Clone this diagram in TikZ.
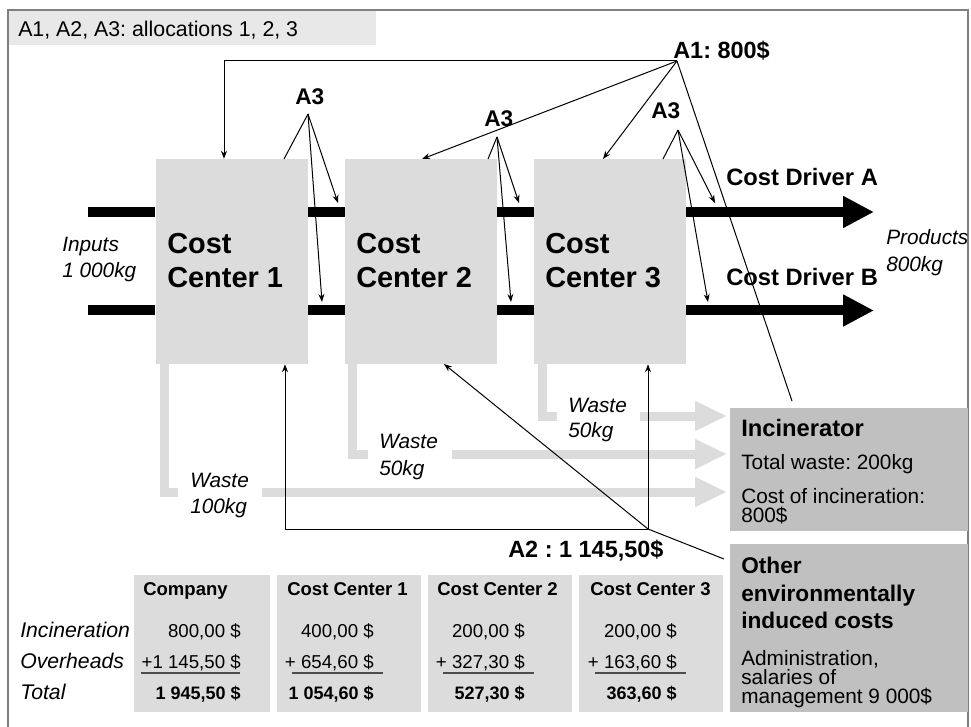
\documentclass[tikz,border=0pt]{standalone}
\usepackage{fontspec}
\setmainfont{Liberation Sans}
\usetikzlibrary{arrows.meta}
\definecolor{boxgray}{HTML}{DCDCDC}
\definecolor{darkbox}{HTML}{C0C0C0}
\definecolor{titlegray}{HTML}{E8E8E8}
\definecolor{framegray}{HTML}{808080}
\newcommand\tightlines[2]{\vbox{\baselineskip=#1\lineskiplimit=-100pt\relax #2}}
\frenchspacing
\begin{document}
\frenchspacing
\begin{tikzpicture}[x=0.75pt,y=-0.75pt,
  txt/.style={inner sep=0pt,anchor=base west},
  txtr/.style={inner sep=0pt,anchor=base east},
  ccbox/.style={fill=boxgray,inner sep=0pt,minimum width=114pt,minimum height=153.75pt},
  tabbox/.style={fill=boxgray,inner sep=0pt,minimum height=102.75pt},
  infobox/.style={fill=darkbox,inner sep=0pt,minimum width=178.5pt},
  thinline/.style={line width=0.75pt},
  tip/.style={thinline,-{Stealth[length=6pt,width=4.5pt]}},
  flowbar/.style={line width=7.5pt},
  flowarrow/.style={line width=7.5pt,-{Triangle[length=23.25pt,width=22.5pt]}},
  waste/.style={line width=6.75pt,draw=boxgray},
  wastearrow/.style={waste,-{Triangle[length=24pt,width=21pt]}},
  uline/.style={line width=1.1pt,draw=black!70},
  ccfont/.style={font=\fontsize{21.7}{26}\selectfont\bfseries},
  lblfont/.style={font=\fontsize{17.6}{21}\selectfont\bfseries},
  a3font/.style={font=\fontsize{17}{20}\selectfont\bfseries},
  itfont/.style={font=\fontsize{15.6}{19}\selectfont\itshape},
  smallfont/.style={font=\fontsize{15.6}{19}\selectfont},
  headfont/.style={font=\fontsize{17.8}{21}\selectfont\bfseries},
  otherfont/.style={font=\fontsize{17}{21}\selectfont\bfseries},
  thfont/.style={font=\fontsize{13.9}{17}\selectfont\bfseries},
  tvfont/.style={font=\fontsize{14}{17}\selectfont},
  ttfont/.style={font=\fontsize{13.5}{16}\selectfont\bfseries},
  rowfont/.style={font=\fontsize{15.9}{19}\selectfont\itshape},
]
\useasboundingbox (0,0) rectangle (971,727);

% frame and title
\draw[framegray,line width=1.1pt] (8,740) -- (8,10) -- (968,10) -- (968,740);
\fill[titlegray] (8.7,10.7) rectangle (376,45);
\node[txt,font=\fontsize{16}{19}\selectfont] (title) at (18,37) {A1, A2, A3: allocations 1, 2, 3};

% waste flows
\draw[waste] (164,364) -- (164,492) -- (178,492);
\draw[wastearrow] (262,492) -- (727,492);
\draw[waste] (352,364) -- (352,454) -- (368,454);
\draw[wastearrow] (452,454) -- (727,454);
\draw[waste] (542,364) -- (542,416) -- (557,416);
\draw[wastearrow] (640,416) -- (727,416);

% cost centres
\node[ccbox] (cc1) at (231.5,261.5) {};
\node[ccbox] (cc2) at (421,261.5) {};
\node[ccbox] (cc3) at (610,261.5) {};
\node[txt,ccfont] (cc1a) at (167,254) {Cost};
\node[txt,ccfont] (cc1b) at (167,288) {Center 1};
\node[txt,ccfont] (cc2a) at (356,254) {Cost};
\node[txt,ccfont] (cc2b) at (356,288) {Center 2};
\node[txt,ccfont] (cc3a) at (545,254) {Cost};
\node[txt,ccfont] (cc3b) at (545,288) {Center 3};

% material flows
\coordinate (inA) at (88,212);
\coordinate (inB) at (88,310.5);
\coordinate (outA) at (874,212);
\coordinate (outB) at (874,310.5);
\draw[flowbar] (inA) -- (cc1.west |- inA);
\draw[flowbar] (cc1.east |- inA) -- (cc2.west |- inA);
\draw[flowbar] (cc2.east |- inA) -- (cc3.west |- inA);
\draw[flowarrow] (cc3.east |- inA) -- (outA);
\draw[flowbar] (inB) -- (cc1.west |- inB);
\draw[flowbar] (cc1.east |- inB) -- (cc2.west |- inB);
\draw[flowbar] (cc2.east |- inB) -- (cc3.west |- inB);
\draw[flowarrow] (cc3.east |- inB) -- (outB);

\node[txt,itfont] (in1) at (62,252) {Inputs};
\node[txt,itfont] (in2) at (62,278) {1 000kg};
\node[txt,itfont] (pr1) at (886,245) {Products};
\node[txt,itfont] (pr2) at (886,272) {800kg};
\node[txt,headfont] (cda) at (726,186) {Cost Driver A};
\node[txt,headfont] (cdb) at (726,286) {Cost Driver B};

% incinerator and other costs
\node[infobox,minimum height=92.25pt] (inc) at (849,469.5) {};
\node[infobox,minimum height=126pt] (oth) at (849,628) {};
\node[txt,headfont] (inc1) at (741,436) {Incinerator};
\node[txt,smallfont] (inc2) at (741,469) {Total waste: 200kg};
\node[txt,smallfont] (inc3) at (741,522) {\tightlines{14.25pt}{\hbox{Cost of incineration:}\hbox{800\$}}};
\node[txt,otherfont] (oth1) at (741,573) {Other};
\node[txt,otherfont] (oth2) at (741,601) {environmentally};
\node[txt,otherfont] (oth3) at (741,628) {induced costs};
\node[txt,smallfont] (oth4) at (741,703) {\tightlines{14.25pt}{\hbox{Administration,}\hbox{salaries of}\hbox{management 9 000\$}}};

% waste labels
\node[txt,itfont] (w1a) at (190,487) {Waste};
\node[txt,itfont] (w1b) at (190,513) {100kg};
\node[txt,itfont] (w2a) at (379,448) {Waste};
\node[txt,itfont] (w2b) at (379,475) {50kg};
\node[txt,itfont] (w3a) at (568,412) {Waste};
\node[txt,itfont] (w3b) at (568,437) {50kg};

% A1 allocation
\node[txt,lblfont] (a1l) at (673,59) {A1: 800\$};
\coordinate (a1) at (677,61);
\coordinate (a1k) at (224,61);
\coordinate (t2) at (422,159);
\coordinate (t3) at (603,159);
\coordinate (incT) at (792,401);
\draw[tip] (a1) -- (a1k) -- (a1k |- cc1.north);
\draw[tip] (a1) -- (t2);
\draw[tip] (a1) -- (t3);
\draw[thinline] (a1) -- (incT);

% A3 allocations
\node[txt,a3font] (b1l) at (295,105) {A3};
\coordinate (b1) at (308,114);
\coordinate (b1s) at (284,159);
\coordinate (b1a) at (338,203);
\coordinate (b1b) at (322,302);
\draw[thinline] (b1) -- (b1s);
\draw[tip] (b1) -- (b1a);
\draw[tip] (b1) -- (b1b);

\node[txt,a3font] (b2l) at (484,127) {A3};
\coordinate (b2) at (497,137);
\coordinate (b2s) at (488,159);
\coordinate (b2a) at (519,203);
\coordinate (b2b) at (511,302);
\draw[thinline] (b2) -- (b2s);
\draw[tip] (b2) -- (b2a);
\draw[tip] (b2) -- (b2b);

\node[txt,a3font] (b3l) at (651,119) {A3};
\coordinate (b3) at (678,130);
\coordinate (b3s) at (663,159);
\coordinate (b3a) at (715,203);
\coordinate (b3b) at (708,302);
\draw[thinline] (b3) -- (b3s);
\draw[tip] (b3) -- (b3a);
\draw[tip] (b3) -- (b3b);

% A2 allocation
\node[txt,lblfont] (a2l) at (508,557) {A2 : 1 145,50\$};
\coordinate (a2) at (648,529);
\coordinate (a2k) at (285,529);
\coordinate (s2) at (444,364);
\coordinate (othT) at (724,559);
\draw[tip] (a2) -- (a2k) -- (a2k |- cc1.south);
\draw[tip] (a2) -- (a2 |- cc3.south);
\draw[tip] (a2) -- (s2);
\draw[thinline] (a2) -- (othT);

% table
\node[tabbox,minimum width=102pt] (tco) at (202,643.5) {};
\node[tabbox,minimum width=108pt] (tc1) at (349,643.5) {};
\node[tabbox,minimum width=108pt] (tc2) at (500,643.5) {};
\node[tabbox,minimum width=108pt] (tc3) at (651,643.5) {};

\node[txt,thfont] (h0) at (143,595) {Company};
\node[txt,thfont] (h1) at (287,595) {Cost Center 1};
\node[txt,thfont] (h2) at (437,595) {Cost Center 2};
\node[txt,thfont] (h3) at (590,595) {Cost Center 3};

\node[txt,rowfont] (r1) at (20,637) {Incineration};
\node[txt,rowfont] (r2) at (20,668) {Overheads};
\node[txt,rowfont] (r3) at (20,699) {Total};

\node[txtr,tvfont] (v01) at (241,637) {800,00 \$};
\node[txtr,tvfont] (v02) at (241,668) {+1 145,50 \$};
\node[txtr,ttfont] (v03) at (241,699) {1 945,50 \$};
\node[txtr,tvfont] (v11) at (374,637) {400,00 \$};
\node[txtr,tvfont] (v12) at (374,668) {+ 654,60 \$};
\node[txtr,ttfont] (v13) at (374,699) {1 054,60 \$};
\node[txtr,tvfont] (v21) at (525,637) {200,00 \$};
\node[txtr,tvfont] (v22) at (525,668) {+ 327,30 \$};
\node[txtr,ttfont] (v23) at (525,699) {527,30 \$};
\node[txtr,tvfont] (v31) at (677,637) {200,00 \$};
\node[txtr,tvfont] (v32) at (677,668) {+ 163,60 \$};
\node[txtr,ttfont] (v33) at (677,699) {363,60 \$};

\draw[uline] (141,673) -- (240,673);
\draw[uline] (292,673) -- (383,673);
\draw[uline] (443,673) -- (534,673);
\draw[uline] (595,673) -- (686,673);
\end{tikzpicture}
\end{document}
